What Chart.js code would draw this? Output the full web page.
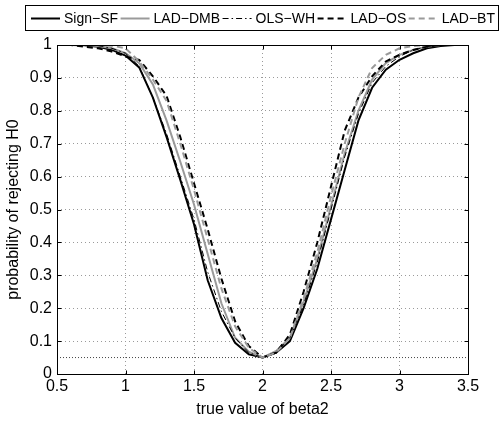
<!DOCTYPE html>
<html>
<head>
<meta charset="utf-8">
<script src="https://cdn.jsdelivr.net/npm/chart.js@4"></script>
<style>
  html, body { margin: 0; padding: 0; background: #fff; }
  #wrap { width: 501px; height: 423px; }
</style>
</head>
<body>
<div id="wrap"><canvas id="chart" width="501" height="423"></canvas></div>
<script>
// ---- data ----
const beta2 = [0.5, 0.6, 0.7, 0.8, 0.9, 1.0, 1.1, 1.2, 1.3, 1.4, 1.5, 1.6, 1.7, 1.8, 1.9, 2.0,
               2.1, 2.2, 2.3, 2.4, 2.5, 2.6, 2.7, 2.8, 2.9, 3.0, 3.1, 3.2, 3.3, 3.4, 3.5];

const signSF = [1, 1, 0.999, 0.995, 0.985, 0.968, 0.932, 0.84, 0.72, 0.59, 0.455, 0.285, 0.17, 0.095, 0.06, 0.05,
                0.065, 0.1, 0.2, 0.32, 0.47, 0.62, 0.77, 0.87, 0.925, 0.955, 0.975, 0.99, 0.997, 1, 1];
const ladDMB = [1, 1, 1, 0.997, 0.99, 0.975, 0.945, 0.88, 0.77, 0.645, 0.515, 0.365, 0.215, 0.11, 0.068, 0.05,
                0.07, 0.11, 0.22, 0.35, 0.51, 0.67, 0.8, 0.895, 0.945, 0.97, 0.985, 0.995, 1, 1, 1];
const olsWH  = [1, 1, 1, 0.998, 0.99, 0.975, 0.935, 0.84, 0.73, 0.6, 0.47, 0.31, 0.19, 0.11, 0.065, 0.05,
                0.068, 0.11, 0.21, 0.34, 0.5, 0.66, 0.79, 0.885, 0.935, 0.965, 0.985, 0.995, 1, 1, 1];
const ladOS  = [1, 1, 0.995, 0.99, 0.98, 0.965, 0.955, 0.905, 0.845, 0.72, 0.58, 0.44, 0.29, 0.16, 0.085, 0.05,
                0.065, 0.12, 0.25, 0.4, 0.57, 0.74, 0.84, 0.905, 0.95, 0.97, 0.985, 0.995, 1, 1, 1];
const ladBT  = [1, 1, 1, 1, 0.998, 0.99, 0.95, 0.895, 0.83, 0.7, 0.56, 0.41, 0.26, 0.145, 0.08, 0.05,
                0.065, 0.11, 0.23, 0.37, 0.54, 0.7, 0.84, 0.93, 0.97, 0.99, 0.997, 1, 1, 1, 1];

const nominalLevel = 0.05;
const xRange = [0.5, 3.5];

const xTickLabels = ['0.5', '1', '1.5', '2', '2.5', '3', '3.5'];
const yTickLabels = ['0', '0.1', '0.2', '0.3', '0.4', '0.5', '0.6', '0.7', '0.8', '0.9', '1'];

const FONT = '"Liberation Sans", Arial, Helvetica, sans-serif';
const GRAY = '#9a9a9a';

const toPoints = ys => beta2.map((x, i) => ({ x, y: ys[i] }));

const series = [
  { label: 'Sign\u2212SF',  data: signSF, color: '#000', width: 2,   dash: [] },
  { label: 'LAD\u2212DMB', data: ladDMB, color: GRAY,   width: 2,   dash: [] },
  { label: 'OLS\u2212WH',  data: olsWH,  color: '#000', width: 1,   dash: [6, 3, 1.5, 3] },
  { label: 'LAD\u2212OS',  data: ladOS,  color: '#000', width: 2,   dash: [6, 4] },
  { label: 'LAD\u2212BT',  data: ladBT,  color: GRAY,   width: 2,   dash: [6, 4] }
];

const datasets = series.map((s, i) => ({
  label: s.label,
  data: toPoints(s.data),
  borderColor: s.color,
  borderWidth: s.width,
  borderDash: s.dash,
  pointRadius: 0,
  tension: 0,
  fill: false,
  order: series.length - i
}));

// dotted 5% reference line
datasets.push({
  label: 'level',
  data: xRange.map(x => ({ x, y: nominalLevel })),
  borderColor: '#444',
  borderWidth: 1,
  borderDash: [1, 2],
  pointRadius: 0,
  order: 10
});

// box around the axes + inward tick marks
const framePlugin = {
  id: 'frame',
  afterDatasetsDraw(chart) {
    const { ctx, chartArea: a, scales } = chart;
    const l = Math.round(a.left) + 0.5, r = Math.round(a.right) + 0.5;
    const t = Math.round(a.top) + 0.5, b = Math.round(a.bottom) + 0.5;
    ctx.save();
    ctx.strokeStyle = '#000';
    ctx.lineWidth = 1;
    ctx.strokeRect(l, t, r - l, b - t);
    ctx.beginPath();
    scales.x.ticks.forEach(tk => {
      const x = Math.round(scales.x.getPixelForValue(tk.value)) + 0.5;
      ctx.moveTo(x, b); ctx.lineTo(x, b - 4);
      ctx.moveTo(x, t); ctx.lineTo(x, t + 4);
    });
    scales.y.ticks.forEach(tk => {
      const y = Math.round(scales.y.getPixelForValue(tk.value)) + 0.5;
      ctx.moveTo(l, y); ctx.lineTo(l + 4, y);
      ctx.moveTo(r, y); ctx.lineTo(r - 4, y);
    });
    ctx.stroke();
    ctx.restore();
  }
};

// boxed legend on one row above the axes
const legendPlugin = {
  id: 'boxLegend',
  afterDraw(chart) {
    const { ctx } = chart;
    const lineLen = 29, gapIn = 4, cy = 18, x0 = 31, x1 = 495;
    ctx.save();
    ctx.font = '14px ' + FONT;
    const widths = series.map(s => ctx.measureText(s.label).width);
    const used = widths.reduce((sum, w) => sum + lineLen + gapIn + w, 0);
    const gapOut = (x1 - x0 - used) / (series.length - 1);
    let x = x0;

    ctx.strokeStyle = '#000';
    ctx.lineWidth = 1;
    ctx.strokeRect(25.5, 5.5, 473, 25);

    ctx.textBaseline = 'middle';
    ctx.fillStyle = '#000';
    series.forEach((s, i) => {
      ctx.beginPath();
      ctx.strokeStyle = s.color;
      ctx.lineWidth = s.width;
      ctx.setLineDash(s.dash);
      ctx.moveTo(x, cy + 0.5);
      ctx.lineTo(x + lineLen, cy + 0.5);
      ctx.stroke();
      ctx.setLineDash([]);
      ctx.fillText(s.label, x + lineLen + gapIn, cy + 1);
      x += lineLen + gapIn + widths[i] + gapOut;
    });
    ctx.restore();
  }
};

new Chart(document.getElementById('chart'), {
  type: 'line',
  data: { datasets },
  options: {
    responsive: false,
    animation: false,
    layout: { padding: { top: 45, right: 33, left: 0, bottom: 0 } },
    plugins: { legend: { display: false }, tooltip: { enabled: false } },
    scales: {
      x: {
        type: 'linear',
        min: xRange[0], max: xRange[1],
        ticks: {
          stepSize: 0.5,
          padding: 3,
          color: '#000',
          font: { family: FONT, size: 16 },
          callback: (v, i) => xTickLabels[i]
        },
        grid: { color: GRAY, lineWidth: 1, drawTicks: false },
        border: { display: false, dash: [1, 3] },
        title: {
          display: true, text: 'true value of beta2', color: '#000',
          font: { family: FONT, size: 16 }, padding: { top: 0, bottom: 4 }
        },
        afterFit: s => { s.height = 49; }
      },
      y: {
        min: 0, max: 1,
        ticks: {
          stepSize: 0.1,
          padding: 5,
          color: '#000',
          font: { family: FONT, size: 16 },
          callback: (v, i) => yTickLabels[i]
        },
        grid: { color: GRAY, lineWidth: 1, drawTicks: false },
        border: { display: false, dash: [1, 3] },
        title: {
          display: true, text: 'probability of rejecting H0', color: '#000',
          font: { family: FONT, size: 16 }, padding: { top: 4, bottom: 0 }
        },
        afterFit: s => { s.width = 57; }
      }
    }
  },
  plugins: [framePlugin, legendPlugin]
});
</script>
</body>
</html>
